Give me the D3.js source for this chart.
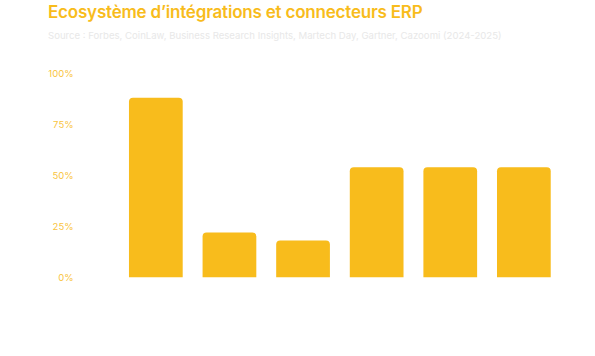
<!DOCTYPE html>
<html><head><meta charset="utf-8">
<script src="https://cdn.jsdelivr.net/npm/d3@7"></script>
<style>
html,body{margin:0;padding:0;background:#fff;}
svg{display:block;font-family:Inter, "Noto Sans", sans-serif;}
</style></head>
<body>
<svg id="chart" width="595" height="356"></svg>
<script>
const categories = ["Connecteur 1","Connecteur 2","Connecteur 3","Connecteur 4","Connecteur 5","Connecteur 6"];
const values = [88, 22, 18, 54, 54, 54];
const yTicks = [0, 25, 50, 75, 100];
const title = "Ecosystème d’intégrations et connecteurs ERP";
const source = "Source : Forbes, CoinLaw, Business Research Insights, Martech Day, Gartner, Cazoomi (2024-2025)";

const svg = d3.select("#chart");
const gold = "#F8BC1C";

svg.append("text").attr("x", 48).attr("y", 18)
  .attr("fill", gold).attr("font-size", 17).attr("font-weight", 600)
  .attr("letter-spacing", -0.2)
  .text(title);
svg.append("text").attr("x", 48).attr("y", 39)
  .attr("fill", "#e8e8e8").attr("font-size", 9.6)
  .text(source);

const x = d3.scaleBand().domain(categories).range([109.1, 570.6]).paddingInner(0.27).paddingOuter(0.27);
const y = d3.scaleLinear().domain([0, 100]).range([277.3, 73.3]);

const yAxis = svg.append("g").attr("transform", "translate(73.5,0)")
  .call(d3.axisLeft(y).tickValues(yTicks).tickFormat(d => d + "%").tickSize(0).tickPadding(0));
yAxis.select(".domain").remove();
yAxis.selectAll("text").attr("fill", "#F9C440").attr("font-size", 9.5).attr("font-family", "Inter, sans-serif");

const r = 4;
svg.append("g").selectAll("path").data(values).join("path")
  .attr("fill", gold)
  .attr("d", (d, i) => {
    const x0 = x(categories[i]), w = x.bandwidth(), y0 = y(d), y1 = y(0);
    return `M${x0},${y1}V${y0 + r}Q${x0},${y0} ${x0 + r},${y0}H${x0 + w - r}Q${x0 + w},${y0} ${x0 + w},${y0 + r}V${y1}Z`;
  });
</script>
</body></html>
